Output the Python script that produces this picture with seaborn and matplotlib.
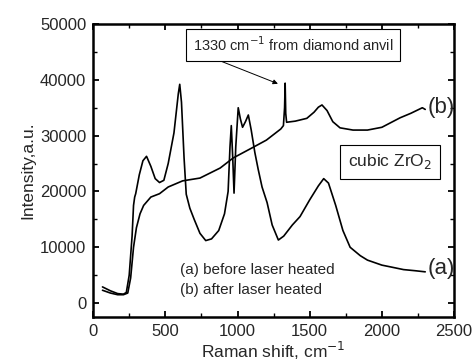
import numpy as np
import pandas as pd
import matplotlib
matplotlib.use("Agg")
import matplotlib.pyplot as plt
import seaborn as sns
from matplotlib.ticker import MultipleLocator

# (a) before laser heated
x_a = [65, 120, 170, 210, 230, 250, 270, 280, 288, 295, 320, 345, 370, 400, 430, 460,
       490, 520, 560, 590, 600, 612, 630, 645, 670, 700, 740, 780, 820, 870, 910, 935,
       948, 957, 967, 976, 988, 1005, 1020, 1035, 1055, 1075, 1095, 1120, 1143, 1170,
       1205, 1240, 1283, 1320, 1380, 1433, 1500, 1560, 1597, 1630, 1680, 1730, 1780,
       1850, 1900, 2000, 2057, 2150, 2230, 2300]
y_a = [2900, 2200, 1700, 1600, 1900, 5000, 12000, 17500, 19000, 19600, 23000, 25500,
       26300, 24500, 22300, 21600, 22000, 25000, 30500, 37500, 39200, 36000, 26000,
       19500, 17000, 15000, 12500, 11200, 11500, 13000, 16000, 20000, 28000, 31800,
       26000, 19700, 28000, 35000, 33000, 31500, 32500, 33700, 31000, 27000, 24000,
       20800, 18000, 14000, 11300, 12000, 14000, 15500, 18500, 21000, 22300, 21500,
       17500, 13000, 10000, 8500, 7700, 6800, 6500, 6000, 5800, 5600]

# (b) after laser heated
x_b = [65, 120, 170, 210, 240, 260, 280, 300, 325, 350, 400, 460, 520, 620, 740, 880,
       970, 1100, 1200, 1300, 1318, 1326, 1330, 1334, 1340, 1400, 1480, 1530, 1560,
       1585, 1620, 1660, 1710, 1800, 1900, 2000, 2126, 2200, 2280, 2300]
y_b = [2300, 1800, 1500, 1500, 1800, 4500, 10000, 13500, 16000, 17500, 19000, 19600,
       20800, 21900, 22400, 24200, 26000, 27800, 29200, 31200, 31800, 35000, 39400,
       34000, 32400, 32600, 33100, 34200, 35100, 35500, 34500, 32500, 31400, 31000,
       31000, 31500, 33200, 34000, 35000, 34700]

df = pd.concat([
    pd.DataFrame({"shift": x_a, "intensity": y_a, "sample": "a"}),
    pd.DataFrame({"shift": x_b, "intensity": y_b, "sample": "b"}),
])

sns.set_theme(style="ticks")
plt.rcParams["font.family"] = ["Liberation Sans", "DejaVu Sans"]

fig = plt.figure(figsize=(4.75, 3.64), dpi=100)
ax = fig.add_axes([0.196, 0.129, 0.76, 0.805])

sns.lineplot(data=df, x="shift", y="intensity", units="sample", estimator=None,
             color="black", linewidth=1.2, sort=False, ax=ax, legend=False)

ax.set_xlim(0, 2500)
ax.set_ylim(-2500, 50000)
ax.xaxis.set_major_locator(MultipleLocator(500))
ax.xaxis.set_minor_locator(MultipleLocator(250))
ax.yaxis.set_major_locator(MultipleLocator(10000))
ax.yaxis.set_minor_locator(MultipleLocator(5000))
ax.tick_params(which="both", direction="in", top=True, right=True,
               labeltop=False, labelright=False, color="black", labelsize=12)
ax.tick_params(which="major", length=4.5, width=1.3, pad=5)
ax.tick_params(which="minor", length=3, width=1.0)
for s in ax.spines.values():
    s.set_linewidth(1.8)
    s.set_color("black")

ax.set_xlabel("Raman shift, cm$^{-1}$", fontsize=12.5, labelpad=1)
ax.set_ylabel("Intensity,a.u.", fontsize=12.5, labelpad=3)

ax.annotate("1330 cm$^{-1}$ from diamond anvil", xy=(1280, 39300),
            xytext=(1385, 46300), ha="center", va="center", fontsize=10.5,
            bbox=dict(boxstyle="square,pad=0.45", fc="white", ec="black", lw=0.8),
            arrowprops=dict(arrowstyle="-|>", color="black", lw=0.7,
                            mutation_scale=7, shrinkA=0, shrinkB=0,
                            relpos=(0.05, 0.0)))

ax.text(2057, 25300, "cubic ZrO$_2$", ha="center", va="center", fontsize=12.5,
        bbox=dict(boxstyle="square,pad=0.45", fc="white", ec="black", lw=0.8))

ax.text(2315, 35000, "(b)", ha="left", va="center", fontsize=16)
ax.text(2315, 6200, "(a)", ha="left", va="center", fontsize=16)
ax.text(602, 6000, "(a) before laser heated", ha="left", va="center", fontsize=11)
ax.text(602, 2400, "(b) after laser heated", ha="left", va="center", fontsize=11)

fig.savefig("out.png", dpi=100)
